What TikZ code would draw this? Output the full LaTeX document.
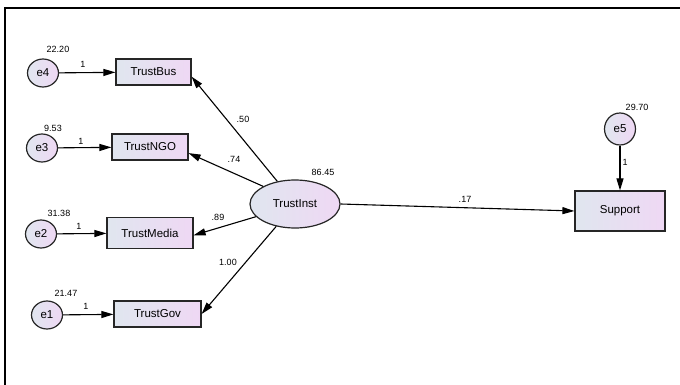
\documentclass[tikz,border=0pt]{standalone}
\usepackage{fontspec}
\setmainfont{Liberation Sans}
\usetikzlibrary{arrows.meta}
\definecolor{gradL}{HTML}{E0E6EF}
\definecolor{gradR}{HTML}{EFD8F4}
\tikzset{
  obs/.style={draw=black!85, line width=1.2pt, left color=gradL, right color=gradR, inner sep=0pt, font=\fontsize{11.5}{13}\selectfont},
  lat/.style={draw=black!85, line width=1.2pt, ellipse, left color=gradL, right color=gradR, inner sep=0pt, font=\fontsize{11.5}{13}\selectfont},
  err/.style={draw=black!85, line width=1.2pt, ellipse, left color=gradL, right color=gradR, inner sep=0pt, minimum width=31pt, minimum height=28pt, font=\fontsize{11.5}{13}\selectfont},
  lbl/.style={font=\fontsize{9}{10}\selectfont, inner sep=0pt},
  conn/.style={line width=1.1pt, -{Triangle[length=12pt,width=7pt]}},
}
\usetikzlibrary{shapes.geometric}
\begin{document}
\begin{tikzpicture}[x=1pt,y=-1pt]
\useasboundingbox (0,0) rectangle (680,385);
\draw[line width=2.2pt] (5,385) -- (5,8) -- (680,8);
% observed variables
\node[obs, minimum width=75pt, minimum height=26pt] (bus) at (153.5,72) {TrustBus};
\node[obs, minimum width=76pt, minimum height=26pt] (ngo) at (150,147) {TrustNGO};
\node[obs, minimum width=86pt, minimum height=31pt] (media) at (150,233) {TrustMedia};
\node[obs, minimum width=87pt, minimum height=26pt] (gov) at (157.5,314) {TrustGov};
\node[obs, minimum width=90pt, minimum height=40pt] (sup) at (620,211) {Support};
% latent
\node[lat, minimum width=90pt, minimum height=48pt] (inst) at (295,204) {TrustInst};
% errors
\node[err] (e4) at (43,73) {e4};
\node[err] (e3) at (42,148) {e3};
\node[err] (e2) at (41,234) {e2};
\node[err] (e1) at (47,315) {e1};
\node[err, minimum width=31pt, minimum height=32pt] (e5) at (620,129) {e5};
% connectors
\draw[conn] (e4) -- (bus);
\draw[conn] (e3) -- (ngo);
\draw[conn] (e2) -- (media);
\draw[conn] (e1) -- (gov);
\draw[conn] (e5) -- (sup);
\draw[conn] (inst.128) -- (bus.-7);
\draw[conn] (inst.151) -- (ngo.-9);
\draw[conn] (inst.198) -- (media.-3);
\draw[conn] (inst.230) -- (gov.east);
\draw[conn] (inst.east) -- (sup.west);
% variances
\node[lbl] (v4) at (58,49) {22.20};
\node[lbl] (v3) at (53,128) {9.53};
\node[lbl] (v2) at (59,213) {31.38};
\node[lbl] (v1) at (66,293) {21.47};
\node[lbl] (v5) at (637,107) {29.70};
\node[lbl] (vi) at (323,172) {86.45};
% path labels
\node[lbl] (l4) at (83,64) {1};
\node[lbl] (l3) at (81,141) {1};
\node[lbl] (l2) at (79,226) {1};
\node[lbl] (l1) at (86,306) {1};
\node[lbl] (l5) at (625,162) {1};
\node[lbl] (p1) at (243,119) {.50};
\node[lbl] (p2) at (234,159) {.74};
\node[lbl] (p3) at (218,217) {.89};
\node[lbl] (p4) at (228,262) {1.00};
\node[lbl] (p5) at (465,199) {.17};
\end{tikzpicture}
\end{document}
